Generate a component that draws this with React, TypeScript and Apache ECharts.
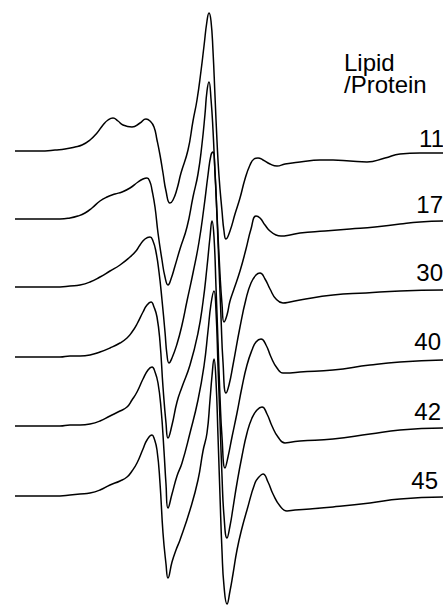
import React, { useEffect, useRef } from "react";
import * as echarts from "echarts";

// Lipid/Protein ratio of each spectrum (top to bottom)
const ratios = ["11", "17", "30", "40", "42", "45"];
// vertical offset (stacking level) of each spectrum's baseline
const baselines = [455, 387, 319, 249, 180, 110];

// [field position, signal amplitude]
const trace11 = [
  [15, 0], [30, 0], [45, 0], [55, 1], [65, 2], [75, 4], [82, 6], [90, 11], [97, 18], [103, 26], [108, 31],
  [113, 33], [118, 30], [123, 26], [132, 24], [140, 28], [146, 32], [150, 30], [154, 24], [157, 11],
  [160, -4], [163, -22], [166, -40], [170, -52], [173, -49], [177, -38], [181, -22], [188, 1], [193, 30],
  [197, 51], [201, 80], [204, 105], [207, 130], [209, 138], [211, 130], [213, 100], [215, 55], [217, 10],
  [219, -25], [222, -60], [224, -80], [226, -88], [230, -80], [235, -63], [240, -47], [245, -28],
  [250, -14], [254, -8], [258, -7], [263, -9], [270, -13], [277, -15], [285, -13], [300, -11], [320, -9],
  [333, -9], [350, -10], [367, -11], [385, -7], [400, -3], [420, -2], [443, -2],
];
const trace17 = [
  [15, 0], [30, 0], [45, 0], [60, 0], [70, 1], [78, 3], [85, 6], [92, 11], [100, 18], [107, 22],
  [115, 25], [122, 27], [130, 31], [138, 37], [143, 40], [147, 41], [150, 37], [152, 29], [155, 12],
  [158, -14], [162, -41], [165, -58], [168, -66], [171, -60], [175, -47], [180, -30], [187, -8], [193, 22],
  [198, 45], [202, 75], [205, 105], [207, 128], [209, 137], [211, 120], [213, 89], [215, 46], [217, 5],
  [220, -55], [222, -85], [224, -103], [227, -96], [230, -82], [234, -70], [240, -52], [246, -30],
  [251, -10], [256, 3], [260, 1], [265, -6], [270, -12], [276, -16], [281, -17], [290, -16], [300, -14],
  [325, -12], [350, -10], [375, -8], [400, -5], [420, -3], [443, -2],
];
const trace30 = [
  [15, 0], [30, 0], [45, 0], [60, 0], [70, 1], [80, 2], [90, 5], [100, 10], [110, 16], [120, 22],
  [130, 30], [136, 36], [140, 42], [145, 48], [150, 50], [153, 46], [156, 35], [159, 15], [162, -13],
  [165, -45], [167, -68], [169, -76], [172, -71], [177, -57], [182, -38], [187, -14], [193, 14], [199, 45],
  [204, 80], [208, 112], [211, 132], [213, 135], [215, 115], [217, 70], [219, 20], [221, -30], [223, -75],
  [226, -106], [229, -98], [233, -78], [240, -40], [246, -12], [251, 4], [256, 12], [260, 14], [265, 8],
  [270, -2], [276, -12], [283, -16], [290, -15], [300, -13], [333, -8], [366, -6], [400, -4], [443, -3],
];
const trace40 = [
  [15, 0], [30, 0], [45, 0], [60, 0], [70, 1], [80, 1], [90, 2], [100, 5], [110, 9], [120, 14],
  [127, 19], [132, 25], [137, 33], [143, 45], [147, 52], [151, 55], [154, 50], [157, 40], [160, 15],
  [163, -30], [166, -66], [168, -81], [172, -68], [177, -45], [182, -30], [190, -8], [198, 24], [203, 55],
  [207, 90], [210, 120], [212, 136], [214, 120], [216, 70], [218, 15], [220, -40], [222, -80], [225, -111],
  [228, -100], [232, -80], [237, -56], [242, -30], [247, -8], [252, 7], [256, 15], [261, 18], [266, 12],
  [271, 0], [277, -11], [283, -16], [290, -16], [300, -15], [333, -13], [370, -8], [400, -5], [443, -3],
];
const trace42 = [
  [15, 0], [30, 0], [45, 0], [60, 0], [70, 1], [80, 1], [90, 2], [100, 5], [110, 10], [120, 15],
  [127, 19], [132, 26], [137, 34], [143, 47], [148, 56], [152, 59], [155, 54], [158, 43], [161, 18],
  [164, -25], [166, -58], [168, -82], [172, -68], [177, -50], [182, -37], [190, -7], [198, 26], [204, 60],
  [208, 95], [211, 122], [214, 135], [216, 115], [218, 60], [220, 5], [222, -50], [224, -90], [227, -112],
  [230, -100], [233, -82], [237, -57], [242, -30], [247, -7], [252, 8], [257, 16], [262, 19], [267, 12],
  [272, 0], [278, -11], [285, -17], [292, -16], [300, -15], [333, -13], [370, -8], [400, -4], [443, -2],
];
const trace45 = [
  [15, 0], [30, 0], [45, 0], [60, 0], [70, 1], [80, 2], [90, 3], [100, 6], [110, 11], [120, 15],
  [127, 19], [132, 25], [137, 33], [143, 47], [147, 56], [152, 61], [154, 58], [157, 46], [160, 13],
  [163, -37], [166, -68], [168, -82], [172, -66], [176, -54], [180, -44], [190, -14], [198, 16], [203, 45],
  [207, 63], [210, 96], [212, 120], [214, 137], [216, 115], [218, 60], [220, 0], [222, -55], [224, -90],
  [227, -108], [230, -95], [233, -78], [237, -54], [242, -32], [247, -14], [255, 13], [259, 19], [263, 22],
  [268, 14], [273, 2], [280, -10], [287, -15], [295, -14], [310, -13], [333, -11], [370, -7], [400, -3],
  [443, -1],
];
const traces = [trace11, trace17, trace30, trace40, trace42, trace45];

const FONT = '24px "Liberation Sans", Arial, sans-serif';

export default function App() {
  const ref = useRef<HTMLDivElement>(null);
  useEffect(() => {
    const chart = echarts.init(ref.current!, null, { renderer: "svg" });
    const series = traces.map((t, i) => ({
      type: "line",
      name: ratios[i],
      data: t.map(([x, a]) => [x, baselines[i] + a]),
      showSymbol: false,
      smooth: 0.5,
      silent: true,
      lineStyle: { color: "#000", width: 1.5 },
    }));
    const labelPos = [
      [444, 138], [443, 204.5], [443, 272], [441, 341], [441, 411], [438, 480.5],
    ];
    const graphic: any[] = [
      {
        type: "text", x: 344, y: 52,
        style: {
          text: "Lipid\n/Protein", font: FONT, lineHeight: 21.5, fill: "#000",
          align: "left", verticalAlign: "top",
        },
      },
      ...ratios.map((r, i) => ({
        type: "text",
        x: labelPos[i][0],
        y: labelPos[i][1],
        style: { text: r, font: FONT, fill: "#000", align: "right", verticalAlign: "middle" },
      })),
    ];
    chart.setOption({
      animation: false,
      backgroundColor: "#fff",
      grid: { left: 0, right: 0, top: 0, bottom: 0 },
      xAxis: { type: "value", min: 0, max: 443, show: false },
      yAxis: { type: "value", min: 0, max: 606, show: false },
      series,
      graphic,
    });
    return () => chart.dispose();
  }, []);
  return (
    <div
      ref={ref}
      style={{ position: "fixed", left: 0, top: 0, width: 443, height: 606, background: "#fff" }}
    />
  );
}
